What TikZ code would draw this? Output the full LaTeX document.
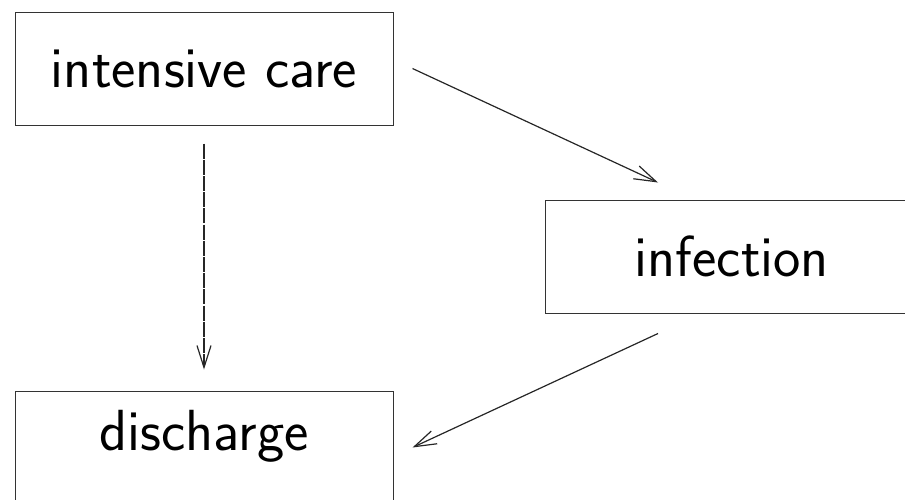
\documentclass[tikz,border=0pt]{standalone}
\usepackage{tikz}
\usetikzlibrary{arrows.meta}
\tikzstyle{state} = [rectangle, draw=black!80, line width=0.5pt, minimum height=56.5pt, inner sep=0pt,
	font=\sffamily\fontsize{29}{32}\selectfont]
\tikzstyle{flow} = [draw=black!85, line width=0.6pt, -{Straight Barb[length=11pt,width=7pt]}]

\begin{document}
\begin{tikzpicture}[x=0.5pt,y=-0.5pt]
			\useasboundingbox (0,0) rectangle (905,499);
			\node [state, minimum width=189pt] (care) at (204,68.5) {intensive care};
			\node [state, minimum width=187pt] (infection) at (732,256.5) {infection};
			\node [state, minimum width=189pt, text depth=17.5pt] (discharge) at (204,447.5) {discharge};
			\draw [flow] ([xshift=9.5pt]care.east) -- ([xshift=-37pt,yshift=8.5pt]infection.north);
			\draw [flow] ([xshift=-37pt,yshift=-10pt]infection.south) -- ([xshift=9.5pt]discharge.east);
			\draw [flow, dash pattern=on 7.5pt off 0.6pt] ([yshift=-9pt]care.south) -- ([yshift=10.5pt]discharge.north);
		\end{tikzpicture}
\end{document}
